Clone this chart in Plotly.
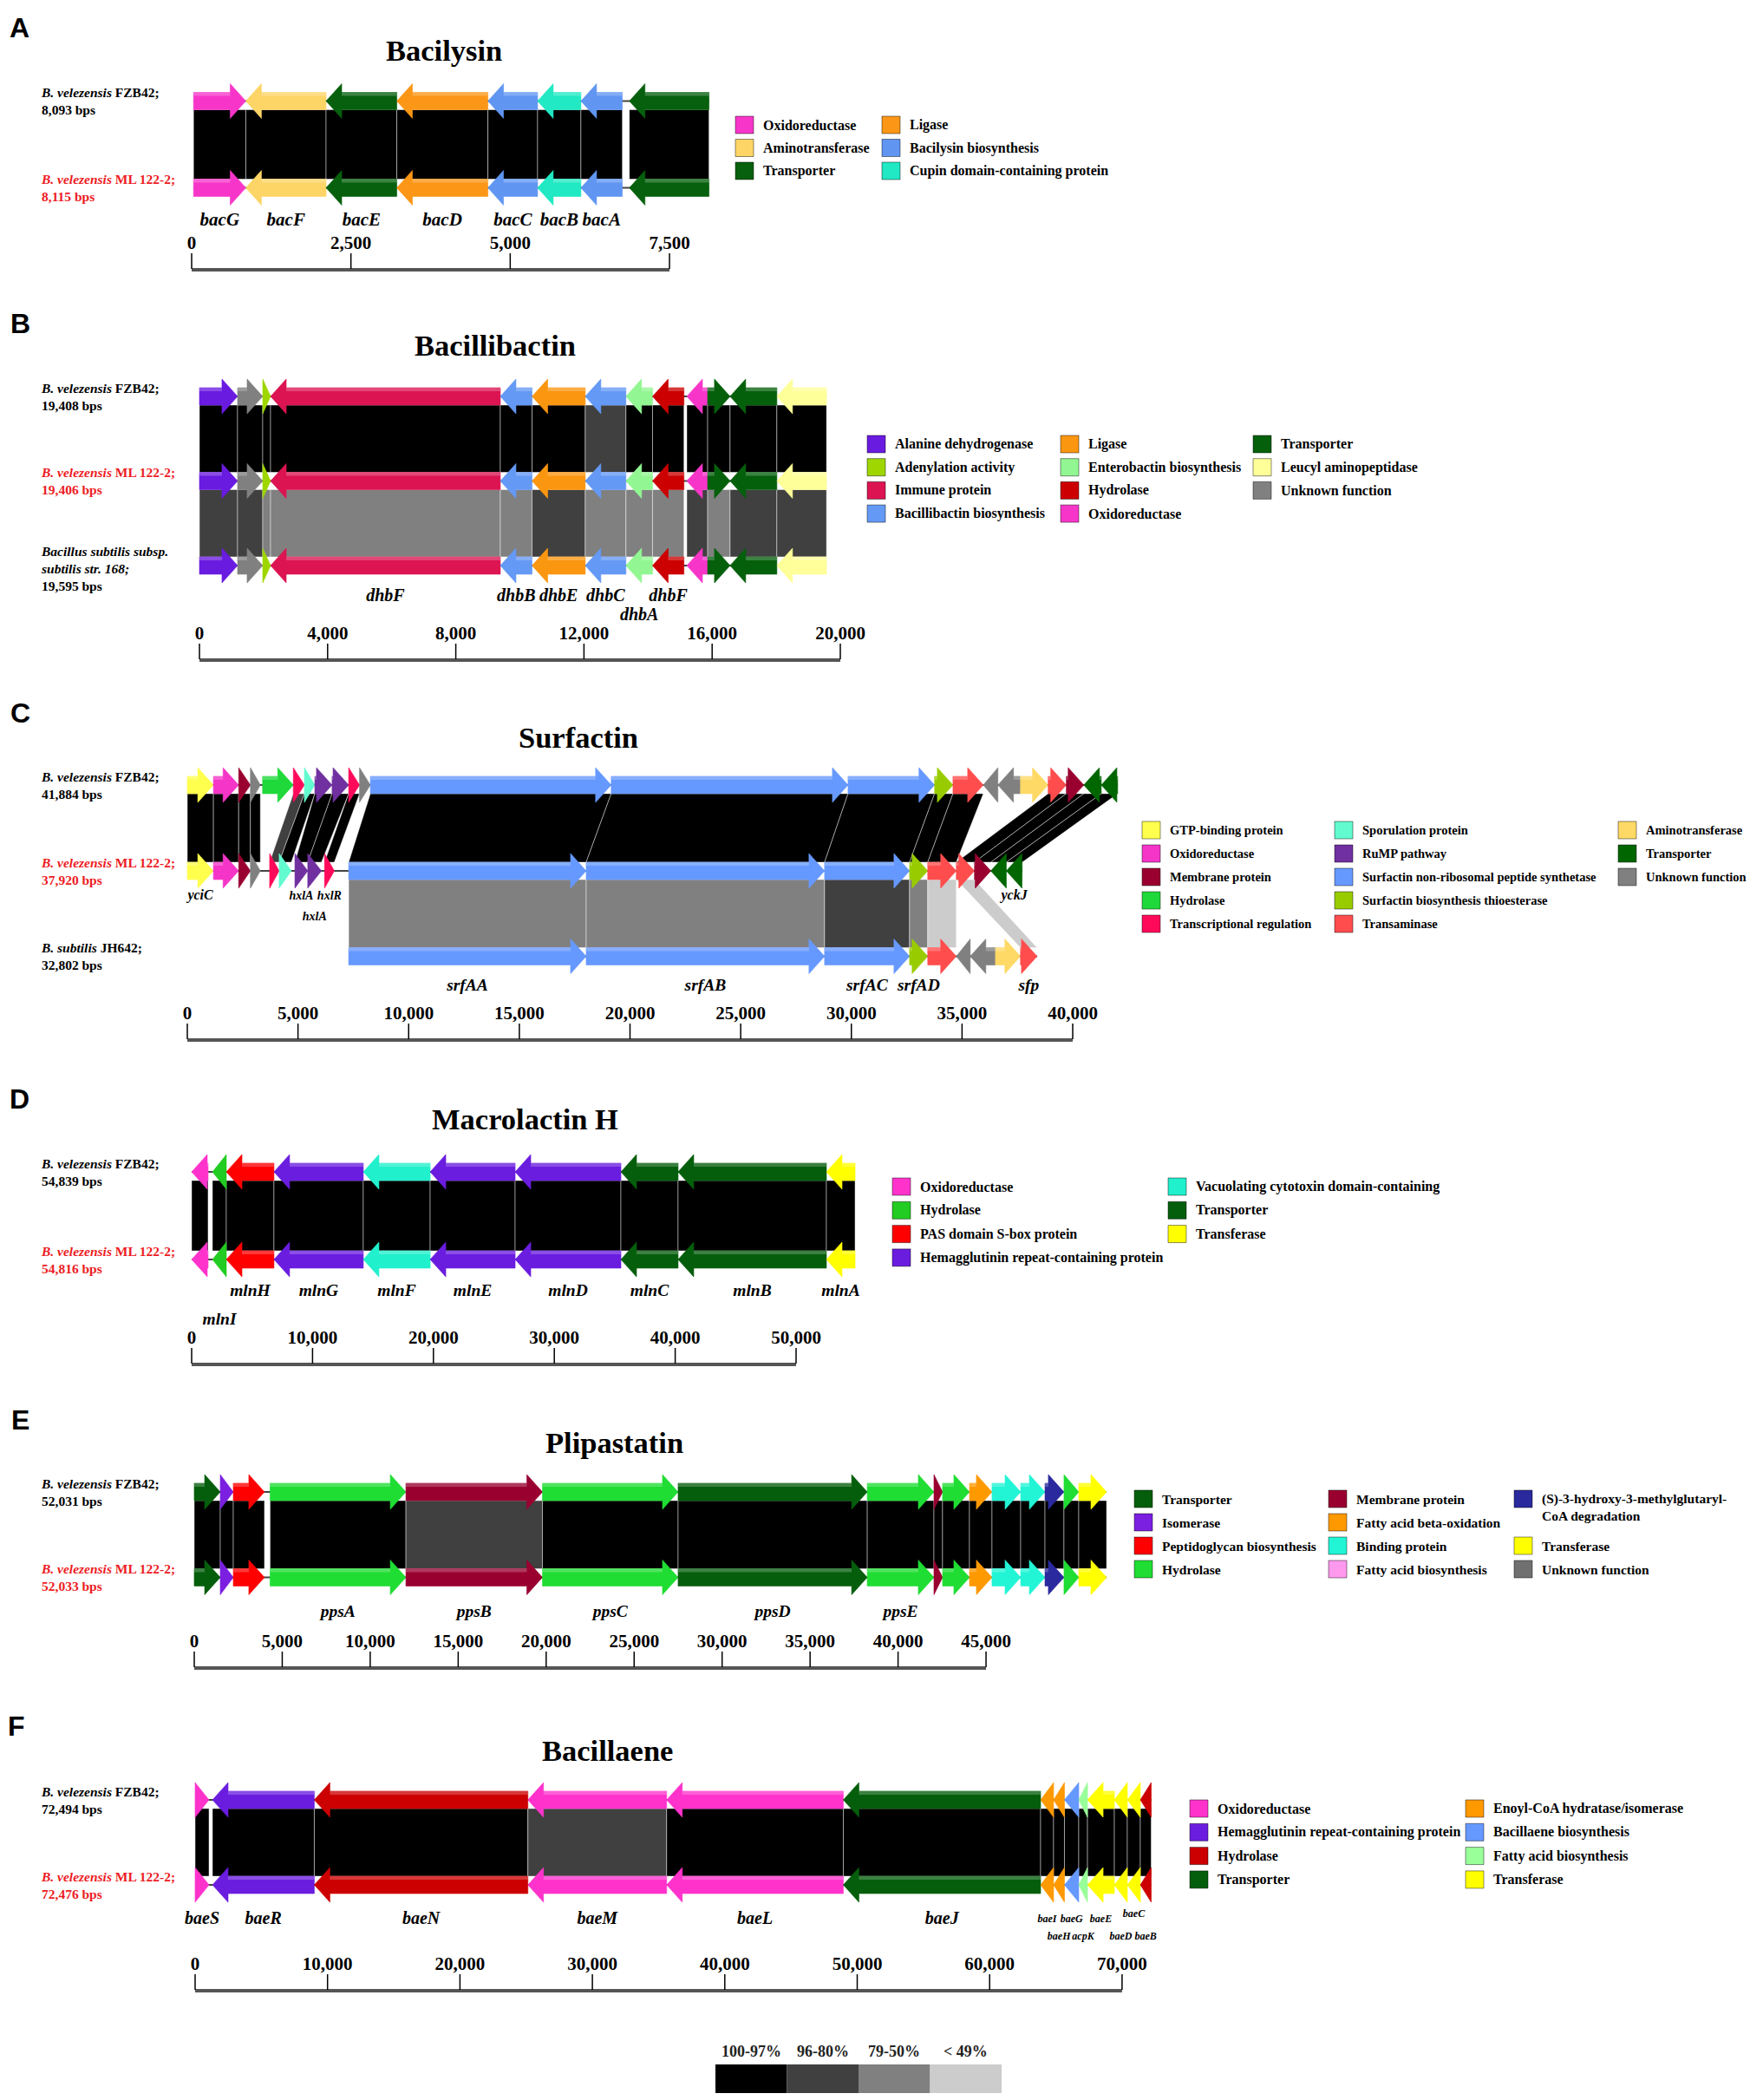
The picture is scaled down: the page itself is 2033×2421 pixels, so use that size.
import plotly.graph_objects as go

W, H = 2033, 2421
OFF = 8                      # the page body adds an 8 px margin around the figure
FW, FH = W - 2 * OFF, H - 2 * OFF
SERIF = "Liberation Serif"
SANS = "Liberation Sans"
RED = "#ed1c24"

IDENTITY_COLORS = ["#000000", "#404040", "#808080", "#cccccc"]
IDENTITY_LABELS = ["100-97%", "96-80%", "79-50%", "< 49%"]

# ---------------- A  Bacilysin ----------------
A_STRAINS = [("B. velezensis", "FZB42;", "8,093 bps"),
             ("B. velezensis", "ML 122-2;", "8,115 bps")]
A_COLORS = {
    "Oxidoreductase": "#f736c9",
    "Aminotransferase": "#fdd566",
    "Transporter": "#06600d",
    "Ligase": "#fb9616",
    "Bacilysin biosynthesis": "#6096f2",
    "Cupin domain-containing protein": "#20e9c3",
}
A_LEGEND = [["Oxidoreductase", "Aminotransferase", "Transporter"],
            ["Ligase", "Bacilysin biosynthesis", "Cupin domain-containing protein"]]
# start, end, strand, function, gene name
A_GENES = [
    (30, 850, 1, "Oxidoreductase", "bacG"),
    (850, 2110, -1, "Aminotransferase", "bacF"),
    (2110, 3220, -1, "Transporter", "bacE"),
    (3220, 4650, -1, "Ligase", "bacD"),
    (4650, 5430, -1, "Bacilysin biosynthesis", "bacC"),
    (5430, 6110, -1, "Cupin domain-containing protein", "bacB"),
    (6110, 6760, -1, "Bacilysin biosynthesis", "bacA"),
    (6870, 8120, -1, "Transporter", ""),
]
# gene on upper track, gene on lower track, identity class
A_LINKS = [(0, 0, 0), (1, 1, 0), (2, 2, 0), (3, 3, 0), (4, 4, 0), (5, 5, 0), (6, 6, 0), (7, 7, 0)]
A_TICKS = [0, 2500, 5000, 7500]

# ---------------- B  Bacillibactin ----------------
B_STRAINS = [("B. velezensis", "FZB42;", "19,408 bps"),
             ("B. velezensis", "ML 122-2;", "19,406 bps"),
             ("Bacillus subtilis subsp.\nsubtilis str. 168;", "", "19,595 bps")]
B_COLORS = {
    "Alanine dehydrogenase": "#6a1be0",
    "Adenylation activity": "#9fd600",
    "Immune protein": "#dc1452",
    "Bacillibactin biosynthesis": "#6499f5",
    "Ligase": "#fb9610",
    "Enterobactin biosynthesis": "#92f792",
    "Hydrolase": "#cc0000",
    "Oxidoreductase": "#f736c9",
    "Transporter": "#05600c",
    "Leucyl aminopeptidase": "#ffff99",
    "Unknown function": "#808080",
}
B_LEGEND = [["Alanine dehydrogenase", "Adenylation activity", "Immune protein", "Bacillibactin biosynthesis"],
            ["Ligase", "Enterobactin biosynthesis", "Hydrolase", "Oxidoreductase"],
            ["Transporter", "Leucyl aminopeptidase", "Unknown function"]]
B_GENES = [
    (0, 1190, 1, "Alanine dehydrogenase", ""),
    (1190, 1975, 1, "Unknown function", ""),
    (1975, 2220, 1, "Adenylation activity", ""),
    (2220, 9390, -1, "Immune protein", "dhbF"),
    (9390, 10380, -1, "Bacillibactin biosynthesis", "dhbB"),
    (10380, 12040, -1, "Ligase", "dhbE"),
    (12040, 13310, -1, "Bacillibactin biosynthesis", "dhbC"),
    (13310, 14140, -1, "Enterobactin biosynthesis", "dhbA"),
    (14140, 15120, -1, "Hydrolase", "dhbF"),
    (15210, 15860, -1, "Oxidoreductase", ""),
    (15860, 16560, 1, "Transporter", ""),
    (16560, 18020, -1, "Transporter", ""),
    (18020, 19570, -1, "Leucyl aminopeptidase", ""),
]
B_LINKS_12 = [(0, 0, 0), (1, 1, 0), (2, 2, 0), (3, 3, 0), (4, 4, 0), (5, 5, 0), (6, 6, 1),
              (7, 7, 0), (8, 8, 0), (9, 9, 0), (10, 10, 0), (11, 11, 0), (12, 12, 0)]
B_LINKS_23 = [(0, 0, 1), (1, 1, 1), (2, 2, 2), (3, 3, 2), (4, 4, 2), (5, 5, 1), (6, 6, 2),
              (7, 7, 2), (8, 8, 2), (9, 9, 1), (10, 10, 2), (11, 11, 1), (12, 12, 1)]
B_TICKS = [0, 4000, 8000, 12000, 16000, 20000]

# ---------------- C  Surfactin ----------------
C_STRAINS = [("B. velezensis", "FZB42;", "41,884 bps"),
             ("B. velezensis", "ML 122-2;", "37,920 bps"),
             ("B. subtilis", "JH642;", "32,802 bps")]
C_COLORS = {
    "GTP-binding protein": "#ffff4d",
    "Oxidoreductase": "#f535c8",
    "Membrane protein": "#990030",
    "Hydrolase": "#1fd93a",
    "Transcriptional regulation": "#ff0a5a",
    "Sporulation protein": "#62fbd0",
    "RuMP pathway": "#7030a0",
    "Surfactin non-ribosomal peptide synthetase": "#6699ff",
    "Surfactin biosynthesis thioesterase": "#99cc00",
    "Transaminase": "#ff4d4d",
    "Aminotransferase": "#ffd966",
    "Transporter": "#006600",
    "Unknown function": "#808080",
}
C_LEGEND = [["GTP-binding protein", "Oxidoreductase", "Membrane protein", "Hydrolase",
             "Transcriptional regulation"],
            ["Sporulation protein", "RuMP pathway", "Surfactin non-ribosomal peptide synthetase",
             "Surfactin biosynthesis thioesterase", "Transaminase"],
            ["Aminotransferase", "Transporter", "Unknown function"]]
C_GENES_FZB42 = [
    (0, 1180, 1, "GTP-binding protein", ""),
    (1180, 2320, 1, "Oxidoreductase", ""),
    (2320, 2850, 1, "Membrane protein", ""),
    (2850, 3300, 1, "Unknown function", ""),
    (3400, 4790, 1, "Hydrolase", ""),
    (4790, 5290, 1, "Transcriptional regulation", ""),
    (5290, 5760, 1, "Sporulation protein", ""),
    (5760, 6540, 1, "RuMP pathway", ""),
    (6540, 7290, 1, "RuMP pathway", ""),
    (7290, 7780, 1, "Transcriptional regulation", ""),
    (7780, 8270, 1, "Unknown function", ""),
    (8270, 19150, 1, "Surfactin non-ribosomal peptide synthetase", ""),
    (19150, 29850, 1, "Surfactin non-ribosomal peptide synthetase", ""),
    (29850, 33760, 1, "Surfactin non-ribosomal peptide synthetase", ""),
    (33760, 34590, 1, "Surfactin biosynthesis thioesterase", ""),
    (34590, 35960, 1, "Transaminase", ""),
    (35960, 36620, -1, "Unknown function", ""),
    (36620, 37640, -1, "Unknown function", ""),
    (37640, 38890, 1, "Aminotransferase", ""),
    (38890, 39710, 1, "Transaminase", ""),
    (39710, 40500, 1, "Membrane protein", ""),
    (40500, 41290, -1, "Transporter", ""),
    (41290, 42030, -1, "Transporter", ""),
]
C_GENES_ML122 = [
    (0, 1180, 1, "GTP-binding protein", "yciC"),
    (1180, 2320, 1, "Oxidoreductase", ""),
    (2320, 2850, 1, "Membrane protein", ""),
    (2850, 3300, 1, "Unknown function", ""),
    (3720, 4150, 1, "Transcriptional regulation", ""),
    (4150, 4700, 1, "Sporulation protein", ""),
    (4860, 5440, 1, "RuMP pathway", "hxlA"),
    (5440, 6060, 1, "RuMP pathway", "hxlA"),
    (6200, 6640, 1, "Transcriptional regulation", "hxlR"),
    (7290, 18020, 1, "Surfactin non-ribosomal peptide synthetase", ""),
    (18020, 28790, 1, "Surfactin non-ribosomal peptide synthetase", ""),
    (28790, 32630, 1, "Surfactin non-ribosomal peptide synthetase", ""),
    (32630, 33450, 1, "Surfactin biosynthesis thioesterase", ""),
    (33450, 34740, 1, "Transaminase", ""),
    (34740, 35560, 1, "Transaminase", ""),
    (35560, 36300, 1, "Membrane protein", ""),
    (36300, 37000, -1, "Transporter", ""),
    (37000, 37720, -1, "Transporter", "yckJ"),
]
C_GENES_JH642 = [
    (7290, 18020, 1, "Surfactin non-ribosomal peptide synthetase", "srfAA"),
    (18020, 28790, 1, "Surfactin non-ribosomal peptide synthetase", "srfAB"),
    (28790, 32630, 1, "Surfactin non-ribosomal peptide synthetase", "srfAC"),
    (32630, 33450, 1, "Surfactin biosynthesis thioesterase", "srfAD"),
    (33450, 34740, 1, "Transaminase", ""),
    (34740, 35370, -1, "Unknown function", ""),
    (35370, 36510, -1, "Unknown function", ""),
    (36510, 37640, 1, "Aminotransferase", ""),
    (37640, 38390, 1, "Transaminase", "sfp"),
]
C_LINKS_12 = [(0, 0, 0), (1, 1, 0), (2, 2, 0), (3, 3, 0), (5, 4, 1), (6, 5, 0), (7, 6, 0),
              (8, 7, 0), (9, 8, 0), (11, 9, 0), (12, 10, 0), (13, 11, 0), (14, 12, 0),
              (15, 13, 0), (19, 14, 0), (20, 15, 0), (21, 16, 0), (22, 17, 0)]
C_LINKS_23 = [(9, 0, 2), (10, 1, 2), (11, 2, 1), (12, 3, 2), (13, 4, 3), (14, 8, 3)]
C_TICKS = [0, 5000, 10000, 15000, 20000, 25000, 30000, 35000, 40000]

# ---------------- D  Macrolactin H ----------------
D_STRAINS = [("B. velezensis", "FZB42;", "54,839 bps"),
             ("B. velezensis", "ML 122-2;", "54,816 bps")]
D_COLORS = {
    "Oxidoreductase": "#ff33cc",
    "Hydrolase": "#22cc22",
    "PAS domain S-box protein": "#ff0000",
    "Hemagglutinin repeat-containing protein": "#6a1ddf",
    "Vacuolating cytotoxin domain-containing": "#21f0cc",
    "Transporter": "#055e0c",
    "Transferase": "#ffff00",
}
D_LEGEND = [["Oxidoreductase", "Hydrolase", "PAS domain S-box protein",
             "Hemagglutinin repeat-containing protein"],
            ["Vacuolating cytotoxin domain-containing", "Transporter", "Transferase"]]
D_GENES = [
    (0, 1360, -1, "Oxidoreductase", ""),
    (1720, 2870, -1, "Hydrolase", "mlnI"),
    (2870, 6810, -1, "PAS domain S-box protein", "mlnH"),
    (6810, 14200, -1, "Hemagglutinin repeat-containing protein", "mlnG"),
    (14200, 19730, -1, "Vacuolating cytotoxin domain-containing", "mlnF"),
    (19730, 26760, -1, "Hemagglutinin repeat-containing protein", "mlnE"),
    (26760, 35510, -1, "Hemagglutinin repeat-containing protein", "mlnD"),
    (35510, 40240, -1, "Transporter", "mlnC"),
    (40240, 52510, -1, "Transporter", "mlnB"),
    (52510, 54880, -1, "Transferase", "mlnA"),
]
D_LINKS = [(0, 0, 0), (1, 1, 0), (2, 2, 0), (3, 3, 0), (4, 4, 0), (5, 5, 0), (6, 6, 0),
           (7, 7, 0), (8, 8, 0), (9, 9, 0)]
D_TICKS = [0, 10000, 20000, 30000, 40000, 50000]

# ---------------- E  Plipastatin ----------------
E_STRAINS = [("B. velezensis", "FZB42;", "52,031 bps"),
             ("B. velezensis", "ML 122-2;", "52,033 bps")]
E_COLORS = {
    "Transporter": "#055e0c",
    "Isomerase": "#7b1fe0",
    "Peptidoglycan biosynthesis": "#ff0000",
    "Hydrolase": "#1fdd33",
    "Membrane protein": "#990030",
    "Fatty acid beta-oxidation": "#ff9900",
    "Binding protein": "#22f5d5",
    "Fatty acid biosynthesis": "#ff99ee",
    "(S)-3-hydroxy-3-methylglutaryl-CoA degradation": "#2a2a9e",
    "Transferase": "#ffff00",
    "Unknown function": "#707070",
}
E_LEGEND = [["Transporter", "Isomerase", "Peptidoglycan biosynthesis", "Hydrolase"],
            ["Membrane protein", "Fatty acid beta-oxidation", "Binding protein", "Fatty acid biosynthesis"],
            ["(S)-3-hydroxy-3-methylglutaryl-CoA degradation", None, "Transferase", "Unknown function"]]
E_GENES = [
    (0, 1480, 1, "Transporter", ""),
    (1480, 2220, 1, "Isomerase", ""),
    (2220, 3990, 1, "Peptidoglycan biosynthesis", ""),
    (4310, 12030, 1, "Hydrolase", "ppsA"),
    (12030, 19790, 1, "Membrane protein", "ppsB"),
    (19790, 27500, 1, "Hydrolase", "ppsC"),
    (27500, 38250, 1, "Transporter", "ppsD"),
    (38250, 42040, 1, "Hydrolase", "ppsE"),
    (42040, 42530, 1, "Membrane protein", ""),
    (42530, 44060, 1, "Hydrolase", ""),
    (44060, 45340, 1, "Fatty acid beta-oxidation", ""),
    (45340, 46970, 1, "Binding protein", ""),
    (46970, 48350, 1, "Binding protein", ""),
    (48350, 49430, 1, "(S)-3-hydroxy-3-methylglutaryl-CoA degradation", ""),
    (49430, 50270, 1, "Hydrolase", ""),
    (50270, 51850, 1, "Transferase", ""),
]
E_LINKS = [(0, 0, 0), (1, 1, 0), (2, 2, 0), (3, 3, 0), (4, 4, 1), (5, 5, 0), (6, 6, 0),
           (7, 7, 0), (8, 8, 0), (9, 9, 0), (10, 10, 0), (11, 11, 0), (12, 12, 0),
           (13, 13, 0), (14, 14, 0), (15, 15, 0)]
E_TICKS = [0, 5000, 10000, 15000, 20000, 25000, 30000, 35000, 40000, 45000]

# ---------------- F  Bacillaene ----------------
F_STRAINS = [("B. velezensis", "FZB42;", "72,494 bps"),
             ("B. velezensis", "ML 122-2;", "72,476 bps")]
F_COLORS = {
    "Oxidoreductase": "#ff33cc",
    "Hemagglutinin repeat-containing protein": "#6a1ddf",
    "Hydrolase": "#cc0000",
    "Transporter": "#055e0c",
    "Enoyl-CoA hydratase/isomerase": "#ff9900",
    "Bacillaene biosynthesis": "#6699ff",
    "Fatty acid biosynthesis": "#99ff99",
    "Transferase": "#ffff00",
}
F_LEGEND = [["Oxidoreductase", "Hemagglutinin repeat-containing protein", "Hydrolase", "Transporter"],
            ["Enoyl-CoA hydratase/isomerase", "Bacillaene biosynthesis", "Fatty acid biosynthesis",
             "Transferase"]]
F_GENES = [
    (0, 1050, 1, "Oxidoreductase", "baeS"),
    (1310, 9000, -1, "Hemagglutinin repeat-containing protein", "baeR"),
    (9000, 25130, -1, "Hydrolase", "baeN"),
    (25130, 35610, -1, "Oxidoreductase", "baeM"),
    (35610, 48950, -1, "Oxidoreductase", "baeL"),
    (48950, 63850, -1, "Transporter", "baeJ"),
    (63850, 64830, -1, "Enoyl-CoA hydratase/isomerase", "baeI"),
    (64830, 65650, -1, "Enoyl-CoA hydratase/isomerase", "baeH"),
    (65650, 66730, -1, "Bacillaene biosynthesis", "baeG"),
    (66730, 67390, -1, "Fatty acid biosynthesis", "acpK"),
    (67390, 69420, -1, "Transferase", "baeE"),
    (69420, 70400, -1, "Transferase", "baeD"),
    (70400, 71380, -1, "Transferase", "baeC"),
    (71380, 72200, -1, "Hydrolase", "baeB"),
]
F_LINKS = [(0, 0, 0), (1, 1, 0), (2, 2, 0), (3, 3, 1), (4, 4, 0), (5, 5, 0), (6, 6, 0),
           (7, 7, 0), (8, 8, 0), (9, 9, 0), (10, 10, 0), (11, 11, 0), (12, 12, 0), (13, 13, 0)]
F_TICKS = [0, 10000, 20000, 30000, 40000, 50000, 60000, 70000]

PANELS = [
    dict(key="A", title="Bacilysin", strains=A_STRAINS, colors=A_COLORS, legend=A_LEGEND,
         genes=[A_GENES, A_GENES], links=[A_LINKS], ticks=A_TICKS),
    dict(key="B", title="Bacillibactin", strains=B_STRAINS, colors=B_COLORS, legend=B_LEGEND,
         genes=[B_GENES, B_GENES, B_GENES], links=[B_LINKS_12, B_LINKS_23], ticks=B_TICKS),
    dict(key="C", title="Surfactin", strains=C_STRAINS, colors=C_COLORS, legend=C_LEGEND,
         genes=[C_GENES_FZB42, C_GENES_ML122, C_GENES_JH642], links=[C_LINKS_12, C_LINKS_23],
         ticks=C_TICKS),
    dict(key="D", title="Macrolactin H", strains=D_STRAINS, colors=D_COLORS, legend=D_LEGEND,
         genes=[D_GENES, D_GENES], links=[D_LINKS], ticks=D_TICKS),
    dict(key="E", title="Plipastatin", strains=E_STRAINS, colors=E_COLORS, legend=E_LEGEND,
         genes=[E_GENES, E_GENES], links=[E_LINKS], ticks=E_TICKS),
    dict(key="F", title="Bacillaene", strains=F_STRAINS, colors=F_COLORS, legend=F_LEGEND,
         genes=[F_GENES, F_GENES], links=[F_LINKS], ticks=F_TICKS),
]

# ---------------- page geometry (pixels of the 2033 x 2421 page) ----------------
GEOM = {
    "A": dict(letter=(22, 32), title=(512, 58), x0=221, ppb=0.07347, tracks=[116.5, 216.5],
              label_dy={1: 38}, label_size=21, bar=310, leg_x=[848, 1017], leg_y=144,
              leg_dy=26.5, leg_size=16),
    "B": dict(letter=(24, 373), title=(571, 398), x0=230, ppb=0.03695, tracks=[457, 554.5, 652],
              label_dy={2: 36}, label_size=20, bar=760, leg_x=[1000, 1223, 1445], leg_y=512,
              leg_dy=26.7, leg_size=16),
    "C": dict(letter=(23, 822), title=(667, 850), x0=216, ppb=0.025525, tracks=[905, 1004, 1102.5],
              label_dy={1: 29, 2: 34.5}, label_size=19.5, bar=1198, leg_x=[1317, 1539, 1866],
              leg_y=957, leg_dy=27, leg_size=14.5),
    "D": dict(letter=(22, 1267), title=(605, 1290), x0=221, ppb=0.01394, tracks=[1351, 1452],
              label_dy={1: 37}, label_size=19.5, bar=1572, leg_x=[1029, 1347], leg_y=1368,
              leg_dy=27.3, leg_size=16),
    "E": dict(letter=(23, 1637), title=(708, 1663), x0=224, ppb=0.02029, tracks=[1720, 1818.5],
              label_dy={1: 41}, label_size=19.5, bar=1922, leg_x=[1308, 1532, 1746], leg_y=1728,
              leg_dy=27, leg_size=15.5),
    "F": dict(letter=(19, 1990), title=(700, 2018), x0=225, ppb=0.01527, tracks=[2075, 2173],
              label_dy={1: 40}, label_size=20, bar=2294, leg_x=[1372, 1690], leg_y=2085,
              leg_dy=27.3, leg_size=16),
}
ROW_SHIFT = {("B", 2, 7): 22, ("C", 1, 7): 24, ("D", 1, 1): 33, ("F", 1, 7): 20,
             ("F", 1, 9): 20, ("F", 1, 11): 20, ("F", 1, 13): 20, ("F", 1, 12): -6}
LABEL_SIZE = {("F", 1, i): 12 for i in range(6, 14)}
LABEL_SIZE.update({("C", 1, 0): 16, ("C", 1, 17): 16,
                   ("C", 1, 6): 14, ("C", 1, 7): 14, ("C", 1, 8): 14})
BODY, HEAD, HEAD_PX = 10, 20, 18
STRAIN_X = 45

fig = go.Figure()
annotations, shapes = [], []


def px(x):
    return (x - OFF) / FW


def add_poly(xs, ys, color, xa, line_color=None, lw=0.6):
    fig.add_trace(go.Scatter(x=xs, y=ys, mode="lines", fill="toself", fillcolor=color,
                             line=dict(color=line_color or color, width=lw),
                             xaxis=xa, yaxis="y", hoverinfo="skip", showlegend=False))


def arrow(a, b, strand, yc, head):
    h = min(head, b - a)
    if strand > 0:
        xs = [a, b - h, b - h, b, b - h, b - h, a, a]
    else:
        xs = [b, a + h, a + h, a, a + h, a + h, b, b]
    ys = [yc - BODY, yc - BODY, yc - HEAD, yc, yc + HEAD, yc + BODY, yc + BODY, yc - BODY]
    return xs, ys


for k, p in enumerate(PANELS):
    g = GEOM[p["key"]]
    xa = "x" if k == 0 else f"x{k + 1}"
    head = HEAD_PX / g["ppb"]
    ty = g["tracks"]

    # similarity links between neighbouring tracks
    for t, pairs in enumerate(p["links"]):
        up, lo = p["genes"][t], p["genes"][t + 1]
        y1, y2 = ty[t] + BODY, ty[t + 1] - BODY
        for i, j, c in pairs:
            a1, b1 = up[i][0], up[i][1]
            a2, b2 = lo[j][0], lo[j][1]
            add_poly([a1, b1, b2, a2, a1], [y1, y1, y2, y2, y1], IDENTITY_COLORS[c], xa,
                     line_color="rgba(255,255,255,0.55)", lw=0.8)

    # genome backbone
    for t, genes in enumerate(p["genes"]):
        lo_bp = min(gn[0] for gn in genes)
        hi_bp = max(gn[1] for gn in genes)
        fig.add_trace(go.Scatter(x=[lo_bp, hi_bp], y=[ty[t], ty[t]], mode="lines",
                                 line=dict(color="#444444", width=2), xaxis=xa, yaxis="y",
                                 hoverinfo="skip", showlegend=False))

    # gene arrows, with a light band along the top of each body
    hx, hy = [], []
    for t, genes in enumerate(p["genes"]):
        for a, b, s, cat, name in genes:
            xs, ys = arrow(a, b, s, ty[t], head)
            add_poly(xs, ys, p["colors"][cat], xa)
            h = min(head, b - a)
            l, r = (a, b - h) if s > 0 else (a + h, b)
            if r > l:
                top = ty[t] - BODY
                hx += [l, r, r, l, l, None]
                hy += [top, top, top + 4, top + 4, top, None]
    fig.add_trace(go.Scatter(x=hx, y=hy, mode="lines", fill="toself",
                             fillcolor="rgba(255,255,255,0.22)", line=dict(width=0),
                             xaxis=xa, yaxis="y", hoverinfo="skip", showlegend=False))

    # gene names
    for t, dy in g["label_dy"].items():
        for i, (a, b, s, cat, name) in enumerate(p["genes"][t]):
            if not name:
                continue
            kk = (p["key"], t, i)
            yk = ty[t] + dy + ROW_SHIFT.get(kk, 0)
            fig.add_trace(go.Scatter(x=[(a + b) / 2], y=[yk], mode="text", text=[name],
                                     textposition="middle center",
                                     textfont=dict(family=SERIF, size=LABEL_SIZE.get(kk, g["label_size"]),
                                                   color="black", weight="bold", style="italic"),
                                     xaxis=xa, yaxis="y", hoverinfo="skip", showlegend=False))

    # scale bar
    ticks = p["ticks"]
    yb = g["bar"]
    fig.add_trace(go.Scatter(x=[ticks[0], ticks[-1]], y=[yb + 1, yb + 1], mode="lines",
                             line=dict(color="#555555", width=4), xaxis=xa, yaxis="y",
                             hoverinfo="skip", showlegend=False))
    tx, tyy = [], []
    for v in ticks:
        tx += [v, v, None]
        tyy += [yb, yb - 18, None]
    fig.add_trace(go.Scatter(x=tx, y=tyy, mode="lines", line=dict(color="black", width=1.5),
                             xaxis=xa, yaxis="y", hoverinfo="skip", showlegend=False))
    fig.add_trace(go.Scatter(x=ticks, y=[yb - 28] * len(ticks), mode="text",
                             text=[f"{v:,}" for v in ticks], textposition="middle center",
                             textfont=dict(family=SERIF, size=21, color="black", weight="bold"),
                             xaxis=xa, yaxis="y", hoverinfo="skip", showlegend=False))

    # panel letter and title
    annotations.append(dict(text=f"<b>{p['key']}</b>", x=px(g["letter"][0]), y=g["letter"][1],
                            xref="paper", yref="y", showarrow=False, xanchor="center",
                            yanchor="middle", font=dict(family=SANS, size=32, color="black")))
    annotations.append(dict(text=f"<b>{p['title']}</b>", x=px(g["title"][0]), y=g["title"][1],
                            xref="paper", yref="y", showarrow=False, xanchor="center",
                            yanchor="middle", font=dict(family=SERIF, size=34.5, color="black")))

    # strain names
    for t, (sp, strain, bps) in enumerate(p["strains"]):
        sp_html = "<br>".join(f"<i>{ln}</i>" for ln in sp.split("\n"))
        txt = f"<b>{sp_html}{' ' + strain if strain else ''}<br>{bps}</b>"
        n_lines = sp.count("\n") + 2
        annotations.append(dict(text=txt, x=px(STRAIN_X), y=ty[t] + (3 if n_lines > 2 else 0),
                                xref="paper", yref="y", showarrow=False, xanchor="left",
                                yanchor="middle", align="left",
                                font=dict(family=SERIF, size=15.5,
                                          color=RED if t == 1 else "black")))

    # function legend
    for c, col in enumerate(p["legend"]):
        cx = g["leg_x"][c]
        for r, cat in enumerate(col):
            if cat is None:
                continue
            ry = g["leg_y"] + r * g["leg_dy"]
            shapes.append(dict(type="rect", xref="paper", yref="y", x0=px(cx), x1=px(cx + 21),
                               y0=ry - 10, y1=ry + 10, fillcolor=p["colors"][cat],
                               line=dict(color="rgba(0,0,0,0.45)", width=1)))
            label = cat.replace("glutaryl-", "glutaryl-<br>")
            two = "<br>" in label
            annotations.append(dict(text=f"<b>{label}</b>", x=px(cx + 30),
                                    y=ry - 11 if two else ry, xref="paper", yref="y",
                                    showarrow=False, xanchor="left",
                                    yanchor="top" if two else "middle", align="left",
                                    font=dict(family=SERIF, size=g["leg_size"], color="black")))

# identity key at the bottom
for i, (lab, col) in enumerate(zip(IDENTITY_LABELS, IDENTITY_COLORS)):
    x0 = 825 + i * 82.5
    shapes.append(dict(type="rect", xref="paper", yref="y", x0=px(x0), x1=px(x0 + 82.5),
                       y0=2380, y1=2415, fillcolor=col, line=dict(width=0)))
    annotations.append(dict(text=f"<b>{lab}</b>", x=px(x0 + 41), y=2365, xref="paper", yref="y",
                            showarrow=False, xanchor="center", yanchor="middle",
                            font=dict(family=SERIF, size=18, color="#222222")))

layout = dict(width=FW, height=FH, margin=dict(l=0, r=0, t=0, b=0),
              plot_bgcolor="white", paper_bgcolor="white", showlegend=False,
              annotations=annotations, shapes=shapes,
              yaxis=dict(domain=[0, 1], range=[FH + OFF, OFF], visible=False, fixedrange=True))
for k, p in enumerate(PANELS):
    g = GEOM[p["key"]]
    ax = dict(domain=[0, 1], range=[(OFF - g["x0"]) / g["ppb"], (FW + OFF - g["x0"]) / g["ppb"]],
              visible=False, fixedrange=True, anchor="y")
    if k == 0:
        layout["xaxis"] = ax
    else:
        ax["overlaying"] = "x"
        layout[f"xaxis{k + 1}"] = ax
fig.update_layout(**layout)

fig.write_html("out.html")
